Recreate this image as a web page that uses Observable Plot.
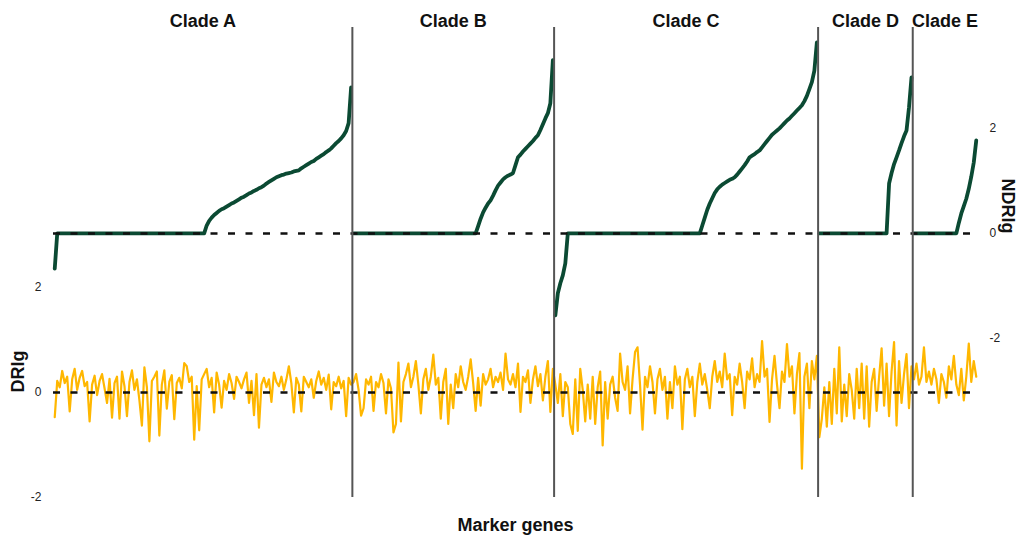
<!DOCTYPE html>
<html><head><meta charset="utf-8">
<script src="https://cdn.jsdelivr.net/npm/d3@7"></script>
<script src="https://cdn.jsdelivr.net/npm/@observablehq/plot@0.6"></script>
<style>
html,body{margin:0;padding:0;background:#fff;}
#chart svg{display:block;}
</style></head><body><div id="chart"></div>
<script>
const clades = ["Clade A","Clade B","Clade C","Clade D","Clade E"];

// DRIg per marker gene (yellow), one value per gene, clade by clade
const drigA = [-0.47,0.22,0.10,0.41,0.18,0.30,-0.36,0.25,0.45,0.05,0.28,0.41,0.12,0.20,-0.55,0.15,0.32,-0.05,0.22,0.35,
0.08,-0.20,0.26,-0.48,0.18,0.30,-0.50,0.40,0.12,-0.45,0.20,0.42,0.05,0.25,-0.15,-0.63,0.48,0.10,-0.93,0.22,
0.30,0.40,-0.82,0.15,0.42,-0.31,0.20,0.33,-0.51,0.18,0.28,0.08,0.56,0.50,0.20,0.30,-0.90,0.12,-0.72,0.25,
0.35,0.45,0.10,0.28,-0.38,0.38,0.15,-0.29,0.22,0.05,0.35,0.18,-0.12,0.30,0.20,0.08,0.25,0.38,-0.20,0.22,
-0.43,0.35,-0.67,0.15,0.28,0.10,0.25,-0.18,0.38,0.20,0.12,0.30,0.05,0.25,0.50,0.18,-0.38,0.28,0.15,-0.36,
0.30,0.20,0.10,0.25,-0.10,0.22,0.40,0.15,0.28,0.05,0.34,-0.32,0.20,0.12,0.30,0.08,0.22,-0.45,0.28,0.15];
const drigB = [0.20,0.35,0.05,-0.44,-0.30,0.25,0.15,0.30,-0.35,0.20,0.10,0.35,0.18,-0.40,0.25,0.08,-0.76,-0.60,0.57,-0.55,
0.20,0.35,0.55,0.10,0.30,0.60,0.15,-0.40,0.25,0.45,0.05,0.30,0.72,0.15,0.28,-0.50,0.20,0.45,-0.60,0.15,
-0.30,0.35,0.10,0.50,0.20,0.05,0.30,0.63,0.18,-0.35,0.28,-0.25,0.35,0.15,0.25,0.45,0.10,0.30,0.20,0.38,
0.05,0.74,0.25,0.15,0.35,0.10,0.55,-0.37,0.30,0.20,0.42,-0.20,0.25,0.50,0.12,0.35,-0.15,0.30,0.60,-0.37,0.45];
const drigC = [0.15,-0.20,0.35,-0.45,0.20,0.10,-0.60,-0.79,0.25,-0.73,0.45,0.05,-0.55,0.15,-0.50,0.30,-0.60,0.10,0.40,-1.01,
0.20,-0.50,0.15,0.30,-0.10,-0.35,0.74,0.20,0.05,0.50,-0.40,0.25,0.77,0.86,0.15,-0.71,0.30,0.10,0.50,0.20,
-0.40,0.25,0.45,0.05,0.30,-0.50,0.20,-0.30,0.50,0.15,0.30,-0.70,0.25,0.45,0.10,0.30,-0.45,0.20,0.55,0.15,
0.35,0.05,-0.30,0.30,0.60,0.20,0.40,0.10,0.74,0.25,0.35,-0.43,0.30,0.15,0.55,0.20,-0.30,0.40,0.25,0.65,
0.10,0.35,0.20,0.98,0.30,0.45,-0.56,0.25,0.70,0.15,-0.30,0.40,0.20,0.92,0.30,0.50,-0.40,0.35,0.75,-1.45,
0.30,0.55,-0.30,0.60,0.25,0.70];
const drigD = [-0.85,-0.50,0.10,-0.65,0.20,-0.60,0.45,-0.40,0.86,-0.55,0.15,-0.45,0.35,0.05,-0.50,0.45,-0.30,0.55,-0.50,0.50,
-0.65,0.20,0.45,-0.35,0.30,0.84,-0.25,0.55,-0.45,0.40,0.96,-0.63,0.60,-0.20,0.35,0.73,-0.30,0.50];
const drigE = [0.25,0.55,0.15,0.30,0.86,0.20,0.40,0.15,0.45,0.25,-0.20,0.35,0.20,-0.10,0.50,0.25,0.70,0.15,-0.05,0.45,
-0.15,0.30,0.93,0.20,0.60,0.30];

// NDRIg per marker gene (green), sorted within clade
const ndrigA = [-0.67,0,0,0,0,0,0,0,0,0,0,0,0,0,0,0,0,0,0,0,0,0,0,0,0,0,0,0,0,0,0,0,0,0,0,0,0,0,0,0,
0,0,0,0,0,0,0,0,0,0,0,0,0,0,0,0,0,0,0,0,0,0.15,0.24,0.30,0.35,0.39,0.43,0.46,0.48,0.51,
0.54,0.57,0.59,0.62,0.65,0.68,0.70,0.73,0.76,0.78,0.81,0.83,0.86,0.88,0.91,0.95,0.98,1.01,1.04,1.07,
1.09,1.11,1.12,1.14,1.15,1.16,1.18,1.19,1.20,1.24,1.27,1.30,1.33,1.36,1.38,1.42,1.45,1.48,1.51,1.55,
1.58,1.62,1.67,1.72,1.76,1.81,1.87,1.95,2.10,2.78];
const ndrigB = [0,0,0,0,0,0,0,0,0,0,0,0,0,0,0,0,0,0,0,0,0,0,0,0,0,0,0,0,0,0,0,0,0,0,0,0,0,0,0,0,
0,0,0,0,0,0,0,0,0,0,0.14,0.28,0.40,0.49,0.57,0.63,0.72,0.82,0.91,0.97,1.03,1.07,1.10,1.12,1.15,1.30,1.45,1.50,1.56,1.61,
1.66,1.71,1.76,1.82,1.87,1.97,2.08,2.19,2.29,2.48,3.30];
const ndrigC = [-1.56,-1.14,-0.95,-0.80,-0.57,0,0,0,0,0,0,0,0,0,0,0,0,0,0,0,0,0,0,0,0,0,0,0,0,0,0,0,0,0,0,0,0,0,0,0,
0,0,0,0,0,0,0,0,0,0,0,0,0,0,0,0,0,0,0,0.15,0.30,0.45,0.57,0.67,0.77,0.84,0.89,0.93,0.96,0.99,
1.02,1.04,1.07,1.12,1.18,1.24,1.30,1.37,1.45,1.48,1.51,1.55,1.58,1.64,1.70,1.76,1.82,1.88,1.92,1.96,
2.00,2.05,2.10,2.15,2.19,2.24,2.29,2.34,2.39,2.44,2.52,2.62,2.75,2.88,3.10,3.64];
const ndrigD = [0,0,0,0,0,0,0,0,0,0,0,0,0,0,0,0,0,0,0,0,0,0,0,0,0,0,0,0,0.95,1.15,1.32,1.45,1.58,1.72,1.85,1.96,2.40,2.97];
const ndrigE = [0,0,0,0,0,0,0,0,0,0,0,0,0,0,0,0,0,0,0.20,0.38,0.52,0.66,0.85,1.08,1.35,1.77];

const tickValues = [-2, 0, 2];
const OFFSET = 3.03; // NDRIg panel sits above the DRIg panel on a shared scale

const drigAll = [drigA, drigB, drigC, drigD, drigE];
const ndrigAll = [ndrigA, ndrigB, ndrigC, ndrigD, ndrigE];
const rows = [], mids = [], bounds = [];
let start = 0;
clades.forEach((c, k) => {
  drigAll[k].forEach((v, j) => rows.push({clade: c, gene: start + j + 0.5, drig: v, ndrig: ndrigAll[k][j]}));
  mids.push({clade: c, x: start + drigAll[k].length / 2});
  start += drigAll[k].length;
  if (k < clades.length - 1) bounds.push(start);
});
const total = start;

const font = '"Liberation Sans", Arial, Helvetica, sans-serif';
const chart = Plot.plot({
  width: 1017, height: 536,
  marginLeft: 53, marginRight: 40, marginTop: 27, marginBottom: 39,
  x: {domain: [0, total], axis: null},
  y: {domain: [-2, 6.952], axis: null},
  style: {fontFamily: font, fontSize: "12px", color: "#222", background: "#fff"},
  marks: [
    Plot.line(rows, {x: "gene", y: "drig", stroke: "#ffb700", strokeWidth: 2.2}),
    Plot.ruleY([0], {stroke: "#111", strokeWidth: 2.5, strokeDasharray: "7,10.5"}),
    Plot.line(rows, {x: "gene", y: d => d.ndrig + OFFSET, z: "clade", stroke: "#0b4a33", strokeWidth: 3.8}),
    Plot.ruleY([OFFSET], {stroke: "#111", strokeWidth: 2.5, strokeDasharray: "7,10.5"}),
    Plot.ruleX(bounds, {stroke: "#555", strokeWidth: 2}),
    Plot.axisY({anchor: "left", ticks: tickValues, tickSize: 0, tickPadding: 12, label: null, tickFormat: d => String(d)}),
    Plot.axisY({anchor: "right", ticks: tickValues.map(t => t + OFFSET), tickSize: 0, tickPadding: 12, label: null,
      tickFormat: d => String(Math.round(d - OFFSET))}),
    Plot.text(mids, {x: "x", text: "clade", frameAnchor: "top", dy: -6, lineAnchor: "middle",
      fontWeight: "bold", fontSize: 18, fill: "#111"}),
    Plot.text(["DRIg"], {y: 0, frameAnchor: "left", dx: -35, rotate: -90, text: d => d,
      fontWeight: "bold", fontSize: 18, fill: "#111"}),
    Plot.text(["NDRIg"], {y: OFFSET, frameAnchor: "right", dx: 30, rotate: 90, text: d => d,
      fontWeight: "bold", fontSize: 18, fill: "#111"}),
    Plot.text(["Marker genes"], {frameAnchor: "bottom", dy: 28, lineAnchor: "middle", text: d => d,
      fontWeight: "bold", fontSize: 18, fill: "#111"})
  ]
});
document.getElementById("chart").appendChild(chart);
</script>
</body></html>
